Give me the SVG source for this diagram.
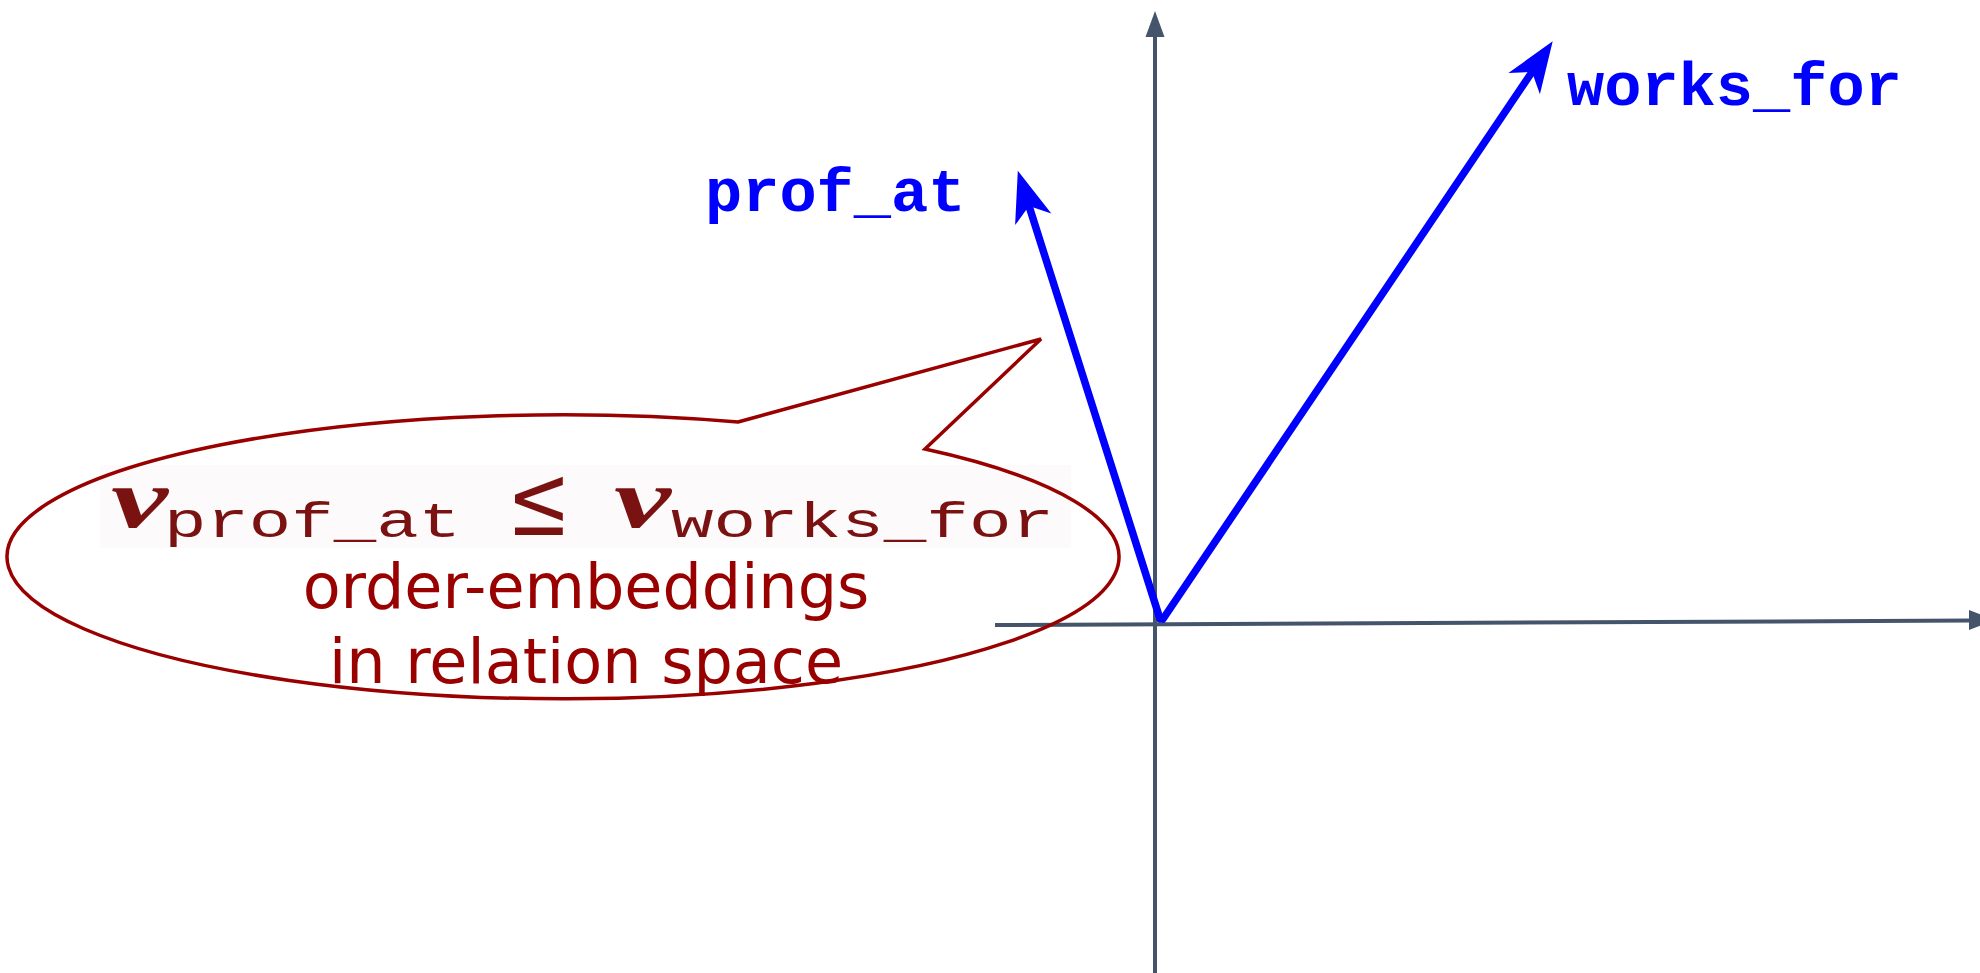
<svg xmlns="http://www.w3.org/2000/svg" width="1980" height="973" viewBox="0 0 1980 973">
<style>
.axis{stroke:#44546a;stroke-width:4;fill:none}
.axhead{fill:#44546a}
.vec{stroke:#0000ff;stroke-width:7.5;fill:none;stroke-linecap:round}
.lbl{font-family:"Liberation Mono",monospace;font-weight:bold;font-size:62px;fill:#0000ff}
.callout{stroke:#990000;stroke-width:3.5;fill:none;stroke-linejoin:miter}
.cap{font-family:"DejaVu Sans",sans-serif;font-size:62px;fill:#990000;text-anchor:middle}
.mv{font-family:"Liberation Serif",serif;font-weight:bold;font-style:italic;font-size:84px;fill:#7a1212}
.msub{font-family:"Liberation Mono",monospace;font-size:50px;fill:#7a1212}
.mle{font-family:"DejaVu Serif",serif;font-size:100px;fill:#7a1212}
</style>
<defs>
<marker id="stealth" markerUnits="userSpaceOnUse" orient="auto" viewBox="-15 -20 55 40" markerWidth="55" markerHeight="40" refX="0" refY="0">
<path d="M37,0 L-14,-19 L0,0 L-14,19 Z" fill="#0000ff"/>
</marker>
</defs>
<rect width="1980" height="973" fill="#ffffff"/>
<g id="axes">
<line class="axis" x1="1155" y1="973" x2="1155" y2="35"/>
<polygon class="axhead" points="1155,11 1145.5,37 1164.5,37"/>
<line class="axis" x1="995" y1="625" x2="1971" y2="620.5"/>
<polygon class="axhead" points="1995,620 1969,610 1969,630"/>
</g>
<g id="connectors">
<line class="vec" x1="1160" y1="619" x2="1029" y2="206" marker-end="url(#stealth)"/>
<line class="vec" x1="1163" y1="619" x2="1532" y2="72" marker-end="url(#stealth)"/>
</g>
<g id="label-prof_at">
<text class="lbl" x="705" y="211">prof_at</text>
</g>
<g id="label-works_for">
<text class="lbl" x="1567" y="105">works_for</text>
</g>
<g id="callout">
<rect x="100" y="465" width="971" height="83" fill="#fcfafa"/>
<path class="callout" d="M738,422 L1041,339 L925,449 A556,142 0 1 1 738,422 Z"/>
<text class="mv" x="111" y="527" textLength="57" lengthAdjust="spacingAndGlyphs">v</text>
<text class="msub" x="164" y="537" textLength="297" lengthAdjust="spacingAndGlyphs">prof_at</text>
<text class="mle" x="507" y="535" textLength="64" lengthAdjust="spacingAndGlyphs">≤</text>
<text class="mv" x="614" y="527" textLength="57" lengthAdjust="spacingAndGlyphs">v</text>
<text class="msub" x="671" y="537" textLength="383" lengthAdjust="spacingAndGlyphs">works_for</text>
<text class="cap" x="586" y="608">order-embeddings</text>
<text class="cap" x="586" y="683">in relation space</text>
</g>
</svg>
